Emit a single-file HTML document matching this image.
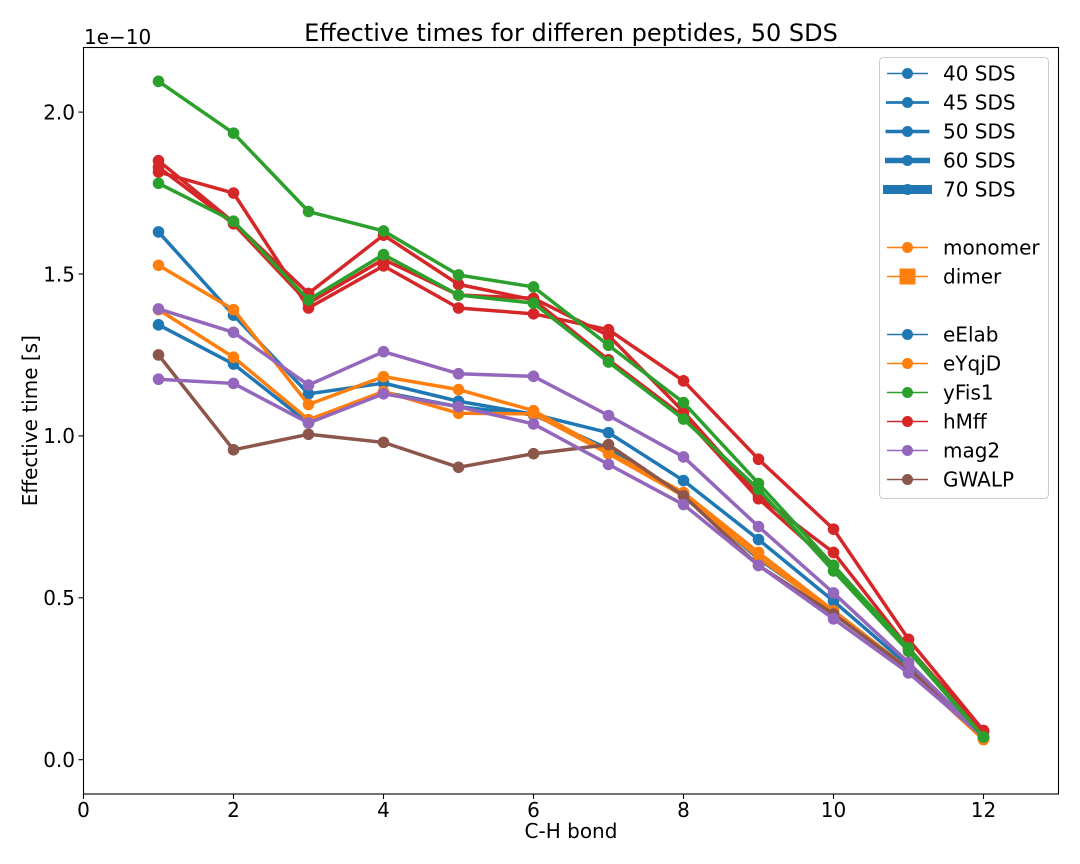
<!DOCTYPE html>
<html>
<head>
<meta charset="utf-8">
<title>Effective times</title>
<style>
html,body{margin:0;padding:0;background:#fff;}
svg{display:block;}
text{font-family:"DejaVu Sans",sans-serif;fill:#000;}
</style>
</head>
<body>
<svg id="chart" xmlns="http://www.w3.org/2000/svg" width="1080" height="864" viewBox="0 0 1080 864">
  <rect x="0" y="0" width="1080" height="864" fill="#fff"/>
  <text x="571" y="41" font-size="24" text-anchor="middle">Effective times for differen peptides, 50 SDS</text>
  <text x="84" y="44" font-size="20">1e−10</text>
  <text x="571" y="838" font-size="20" text-anchor="middle">C-H bond</text>
  <text x="0" y="0" font-size="20" text-anchor="middle" transform="translate(37 420.7) rotate(-90)">Effective time [s]</text>
  <g id="ticks"></g>
  <g id="marks"></g>
  <rect x="83.5" y="47.5" width="975" height="746.5" fill="none" stroke="#000" stroke-width="1.1"/>

  <g>
    <rect x="879.5" y="57.5" width="169" height="441" rx="4" fill="#fff" fill-opacity="0.8" stroke="#ccc" stroke-width="1.1"/>
    <g><line x1="887" x2="928" y1="73.5" y2="73.5" stroke="#1f77b4" stroke-width="1.4"/><circle cx="907.5" cy="73.5" r="5.5" fill="#1f77b4"/><text x="943" y="80.5" font-size="20">40 SDS</text></g>
    <g><line x1="886" x2="929" y1="102.5" y2="102.5" stroke="#1f77b4" stroke-width="2.8"/><circle cx="907.5" cy="102.5" r="5.5" fill="#1f77b4"/><text x="943" y="109.5" font-size="20">45 SDS</text></g>
    <g><line x1="885.5" x2="929.5" y1="131.5" y2="131.5" stroke="#1f77b4" stroke-width="3.5"/><circle cx="907.5" cy="131.5" r="5.5" fill="#1f77b4"/><text x="943" y="138.5" font-size="20">50 SDS</text></g>
    <g><line x1="885" x2="930" y1="160.5" y2="160.5" stroke="#1f77b4" stroke-width="5.6"/><circle cx="907.5" cy="160.5" r="5.5" fill="#1f77b4"/><text x="943" y="167.5" font-size="20">60 SDS</text></g>
    <g><line x1="883" x2="932" y1="189.5" y2="189.5" stroke="#1f77b4" stroke-width="9"/><circle cx="907.5" cy="189.5" r="5.5" fill="#1f77b4"/><text x="943" y="196.5" font-size="20">70 SDS</text></g>
    <g><line x1="887" x2="928" y1="247.5" y2="247.5" stroke="#ff7f0e" stroke-width="1.4"/><circle cx="907.5" cy="247.5" r="5.5" fill="#ff7f0e"/><text x="943" y="254.5" font-size="20">monomer</text></g>
    <g><line x1="887" x2="928" y1="276.5" y2="276.5" stroke="#ff7f0e" stroke-width="1.4"/><rect x="899.5" y="268.5" width="16" height="16" fill="#ff7f0e"/><text x="943" y="283.5" font-size="20">dimer</text></g>
    <g><line x1="887" x2="928" y1="334.5" y2="334.5" stroke="#1f77b4" stroke-width="1.4"/><circle cx="907.5" cy="334.5" r="5.5" fill="#1f77b4"/><text x="943" y="341.5" font-size="20">eElab</text></g>
    <g><line x1="887" x2="928" y1="363.5" y2="363.5" stroke="#ff7f0e" stroke-width="1.4"/><circle cx="907.5" cy="363.5" r="5.5" fill="#ff7f0e"/><text x="943" y="370.5" font-size="20">eYqjD</text></g>
    <g><line x1="887" x2="928" y1="392.5" y2="392.5" stroke="#2ca02c" stroke-width="1.4"/><circle cx="907.5" cy="392.5" r="5.5" fill="#2ca02c"/><text x="943" y="399.5" font-size="20">yFis1</text></g>
    <g><line x1="887" x2="928" y1="421.5" y2="421.5" stroke="#d62728" stroke-width="1.4"/><circle cx="907.5" cy="421.5" r="5.5" fill="#d62728"/><text x="943" y="428.5" font-size="20">hMff</text></g>
    <g><line x1="887" x2="928" y1="450.5" y2="450.5" stroke="#9467bd" stroke-width="1.4"/><circle cx="907.5" cy="450.5" r="5.5" fill="#9467bd"/><text x="943" y="457.5" font-size="20">mag2</text></g>
    <g><line x1="887" x2="928" y1="479.5" y2="479.5" stroke="#8c564b" stroke-width="1.4"/><circle cx="907.5" cy="479.5" r="5.5" fill="#8c564b"/><text x="943" y="486.5" font-size="20">GWALP</text></g>
  </g>
</svg>
<script>
const bonds = [1,2,3,4,5,6,7,8,9,10,11,12];
const xTicks = [0,2,4,6,8,10,12];
const yTicks = [0,0.5,1,1.5,2];
const yTickLabels = ["0.0","0.5","1.0","1.5","2.0"];

const eElabA = [1.63,1.373,1.13,1.163,1.107,1.067,1.01,0.862,0.68,0.49,0.29,0.07];
const eElabB = [1.343,1.222,1.04,1.135,1.09,1.065,0.96,0.82,0.62,0.46,0.28,0.07];
const eYqjDA = [1.527,1.39,1.097,1.183,1.143,1.078,0.95,0.825,0.64,0.46,0.28,0.065];
const eYqjDB = [1.39,1.243,1.05,1.137,1.07,1.068,0.945,0.815,0.625,0.455,0.275,0.062];
const gwalp = [1.25,0.957,1.005,0.98,0.903,0.945,0.973,0.815,0.6,0.45,0.28,0.085];
const mag2A = [1.392,1.32,1.157,1.26,1.192,1.184,1.063,0.935,0.72,0.515,0.3,0.07];
const mag2B = [1.175,1.162,1.04,1.13,1.09,1.037,0.912,0.788,0.6,0.435,0.268,0.07];
const hMffA = [1.815,1.75,1.395,1.525,1.395,1.377,1.328,1.17,0.928,0.712,0.372,0.09];
const hMffB = [1.85,1.66,1.44,1.62,1.468,1.42,1.235,1.06,0.806,0.6,0.34,0.09];
const hMffC = [1.83,1.655,1.41,1.545,1.435,1.425,1.31,1.075,0.815,0.64,0.345,0.085];
const yFis1A = [2.095,1.935,1.693,1.633,1.497,1.46,1.28,1.103,0.853,0.6,0.345,0.07];
const yFis1B = [1.78,1.663,1.42,1.56,1.435,1.41,1.228,1.052,0.835,0.583,0.335,0.07];

const seriesList = [
  ['eelab-a', eElabA, '#1f77b4'],
  ['eelab-b', eElabB, '#1f77b4'],
  ['eyqjd-a', eYqjDA, '#ff7f0e'],
  ['eyqjd-b', eYqjDB, '#ff7f0e'],
  ['gwalp', gwalp, '#8c564b'],
  ['mag2-a', mag2A, '#9467bd'],
  ['mag2-b', mag2B, '#9467bd'],
  ['hmff-a', hMffA, '#d62728'],
  ['hmff-b', hMffB, '#d62728'],
  ['hmff-c', hMffC, '#d62728'],
  ['yfis1-a', yFis1A, '#2ca02c'],
  ['yfis1-b', yFis1B, '#2ca02c']
];

const NS = 'http://www.w3.org/2000/svg';
function xPos(v){ return 83.5 + v * 75; }
function yPos(v){ return 759.7 - v * 323.8; }
function make(tag, attrs, parent){
  const el = document.createElementNS(NS, tag);
  for (const k in attrs) el.setAttribute(k, attrs[k]);
  parent.appendChild(el);
  return el;
}

const tickGroup = document.getElementById('ticks');
xTicks.forEach(function(t){
  const x = xPos(t);
  const mark = make('line', {x1:x, x2:x, y1:794, y2:799, stroke:'#000', 'stroke-width':1.1}, tickGroup);
  
  
  const label = make('text', {x:x, y:817, 'font-size':20, 'text-anchor':'middle'}, tickGroup);
  
  
  label.textContent = String(t);
});
yTicks.forEach(function(t, i){
  const y = yPos(t);
  const mark = make('line', {x1:78.5, x2:83.5, y1:y, y2:y, stroke:'#000', 'stroke-width':1.1}, tickGroup);
  
  
  const label = make('text', {x:75, y:y + 7.3, 'font-size':20, 'text-anchor':'end'}, tickGroup);
  
  
  label.textContent = yTickLabels[i];
});

const marksGroup = document.getElementById('marks');
seriesList.forEach(function(s){
  const group = make('g', {}, marksGroup);
  
  
  const pts = s[1].map(function(v, i){ return xPos(bonds[i]).toFixed(2) + ',' + yPos(v).toFixed(2); }).join(' ');
  const line = make('polyline', {points:pts, fill:'none', stroke:s[2], 'stroke-width':3.5, 'stroke-linejoin':'round'}, group);
  
  
  s[1].forEach(function(v, i){
    const point = make('circle', {cx:xPos(bonds[i]), cy:yPos(v), r:5.8, fill:s[2]}, group);
    
    
  });
});
</script>
</body>
</html>
